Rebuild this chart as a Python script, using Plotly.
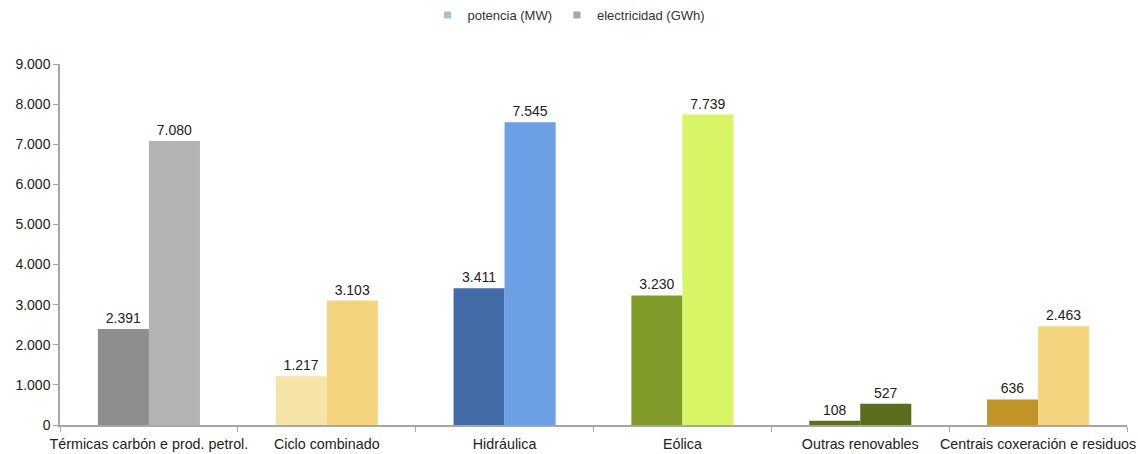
import plotly.graph_objects as go

categories = ["Térmicas carbón e prod. petrol.", "Ciclo combinado", "Hidráulica",
              "Eólica", "Outras renovables", "Centrais coxeración e residuos"]
potencia = [2391, 1217, 3411, 3230, 108, 636]
electricidad = [7080, 3103, 7545, 7739, 527, 2463]
potencia_colors = ["#8d8d8d", "#f6e3a8", "#426ba8", "#7f9a26", "#5a6d1b", "#c09525"]
electricidad_colors = ["#b3b3b3", "#f4d47e", "#6c9fe3", "#d8f566", "#5a6d1b", "#f4d47e"]

def fmt(v):
    return f"{v:,}".replace(",", ".")

fig = go.Figure()
fig.add_trace(go.Bar(x=categories, y=potencia, marker_color=potencia_colors,
                     marker_line_width=0,
                     text=[fmt(v) for v in potencia], textposition="outside",
                     showlegend=False, name="potencia (MW)", cliponaxis=False))
fig.add_trace(go.Bar(x=categories, y=electricidad, marker_color=electricidad_colors,
                     marker_line_width=0,
                     text=[fmt(v) for v in electricidad], textposition="outside",
                     showlegend=False, name="electricidad (GWh)", cliponaxis=False))
fig.add_trace(go.Scatter(x=[None], y=[None], mode="markers", name="potencia (MW)",
                         marker=dict(symbol="square", size=7, color="#a9bfd6")))
fig.add_trace(go.Scatter(x=[None], y=[None], mode="markers", name="electricidad (GWh)",
                         marker=dict(symbol="square", size=7, color="#a6a6a6")))

fig.update_traces(textfont=dict(size=14, color="#222222"), selector=dict(type="bar"))

fig.update_layout(
    width=1138, height=454,
    margin=dict(l=60, r=11, t=64, b=29),
    paper_bgcolor="white", plot_bgcolor="white",
    barmode="group", bargap=0.426, bargroupgap=0,
    separators=",.",
    font=dict(family="Liberation Sans, Arial, sans-serif", size=13, color="#222222"),
    legend=dict(orientation="h", x=0.477, xanchor="center", y=1.0, yanchor="top",
                yref="container", font=dict(size=13, color="#333333"),
                tracegroupgap=0),
    xaxis=dict(showline=True, linecolor="#a6a6a6", linewidth=1.5, ticks="outside",
               tickson="boundaries", ticklen=5, tickcolor="#a6a6a6", tickangle=0,
               automargin=False, ticklabelstandoff=5,
               tickfont=dict(size=14.3, color="#222222"), fixedrange=True),
    yaxis=dict(range=[0, 9000], dtick=1000, showgrid=False, showline=True,
               linecolor="#a6a6a6", linewidth=1.5, ticks="outside", ticklen=5,
               tickcolor="#a6a6a6", tickformat=",d", zeroline=False, automargin=False,
               tickfont=dict(size=14, color="#222222")),
)

fig.write_html("out.html")
